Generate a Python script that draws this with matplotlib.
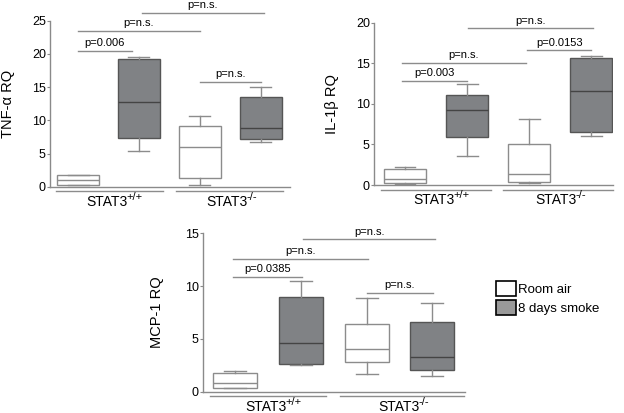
import matplotlib
matplotlib.use("Agg")
import matplotlib.pyplot as plt
from matplotlib.patches import Patch

# Datos: (min, q1, mediana, q3, max) por caja
# orden: STAT3+/+ aire, STAT3+/+ humo, STAT3-/- aire, STAT3-/- humo
tnf_cajas = [(0.2, 0.3, 1.0, 1.7, 1.8),
             (5.4, 7.3, 12.7, 19.2, 19.6),
             (0.25, 1.25, 6.0, 9.1, 10.6),
             (6.8, 7.2, 8.8, 13.55, 15.05)]
il1_cajas = [(0.15, 0.2, 0.8, 2.0, 2.25),
             (3.6, 5.9, 9.3, 11.1, 12.4),
             (0.25, 0.33, 1.3, 5.1, 8.1),
             (6.0, 6.5, 11.6, 15.7, 15.9)]
mcp_cajas = [(0.32, 0.35, 0.85, 1.8, 1.96),
             (2.55, 2.6, 4.58, 9.0, 10.5),
             (1.67, 2.78, 4.0, 6.38, 8.84),
             (1.48, 2.1, 3.25, 6.57, 8.43)]

# comparaciones: (x inicio, x fin, altura, texto)
tnf_p = [(1, 1.88, 20.5, "p=0.006"), (1, 3, 23.5, "p=n.s."),
         (2.05, 4.05, 26.2, "p=n.s."), (3, 4, 15.8, "p=n.s.")]
il1_p = [(0.95, 2, 12.85, "p=0.003"), (0.95, 2.95, 15.0, "p=n.s."),
         (2.02, 4.02, 19.3, "p=n.s."), (2.97, 4, 16.6, "p=0.0153")]
mcp_p = [(0.97, 2.02, 10.9, "p=0.0385"), (0.97, 3.02, 12.6, "p=n.s."),
         (2.03, 4.05, 14.43, "p=n.s."), (3.0, 4.02, 9.35, "p=n.s.")]

grupos = ["STAT3", "STAT3"]
superindices = ["+/+", "-/-"]
leyenda = ["Room air", "8 days smoke"]

W, H = 624, 413
fig = plt.figure(figsize=(W / 100, H / 100), dpi=100)
plt.rcParams['font.family'] = ['Liberation Sans', 'DejaVu Sans']

GRIS_EJE = "#8a8a8a"


def panel(px, ytop, ybot, xlim, ylim, yticks, cajas, pvals, ylabel, ancho,
          lineas_grupo, pad_label):
    # px = (izq, der) en pixeles; ytop/ybot pixeles
    ax = fig.add_axes([px[0] / W, (H - ybot) / H, (px[1] - px[0]) / W, (ybot - ytop) / H])
    stats = []
    for lo, q1, med, q3, hi in cajas:
        stats.append(dict(whislo=lo, q1=q1, med=med, q3=q3, whishi=hi, fliers=[]))
    bp = ax.bxp(stats, positions=[1, 2, 3, 4], widths=ancho, patch_artist=True,
                showcaps=True, capwidths=ancho * 0.5, manage_ticks=False)
    for i, caja in enumerate(bp['boxes']):
        if i % 2 == 0:
            caja.set_facecolor("white")
            caja.set_edgecolor("#8c8c8c")
        else:
            caja.set_facecolor("#808285")
            caja.set_edgecolor("#555555")
        caja.set_linewidth(1.0)
    for i, m in enumerate(bp['medians']):
        m.set_color("#8c8c8c" if i % 2 == 0 else "#444444")
        m.set_linewidth(1.0)
    for w in bp['whiskers'] + bp['caps']:
        w.set_color("#8c8c8c")
        w.set_linewidth(1.0)

    ax.set_xlim(*xlim)
    ax.set_ylim(*ylim)
    ax.set_yticks(yticks)
    ax.set_xticks([])
    for s in ["top", "right"]:
        ax.spines[s].set_visible(False)
    for s in ["left", "bottom"]:
        ax.spines[s].set_color(GRIS_EJE)
        ax.spines[s].set_linewidth(1.0)
    ax.tick_params(axis='y', colors=GRIS_EJE, labelcolor="black", labelsize=9,
                   length=2.2, pad=0.8)
    ax.set_ylabel(ylabel, fontsize=10.5, labelpad=pad_label)

    for x0, x1, y, t in pvals:
        ax.plot([x0, x1], [y, y], color="#8c8c8c", lw=1.0, clip_on=False)
        ax.annotate(t, ((x0 + x1) / 2, y), xytext=(0, 2), textcoords="offset points",
                    ha="center", va="bottom", fontsize=8, annotation_clip=False)

    dy = 4.5 / (ybot - ytop) * (ylim[1] - ylim[0])
    for (x0, x1), g, sup in zip(lineas_grupo, grupos, superindices):
        ax.plot([x0, x1], [-dy, -dy], color="#8c8c8c", lw=1.0, clip_on=False)
        c = (x0 + x1) / 2
        ax.annotate(g, (c, -dy), xytext=(-23, -4), textcoords="offset pixels",
                    ha="left", va="top", fontsize=10, annotation_clip=False)
        ax.annotate(sup, (c, -dy), xytext=(17, -1), textcoords="offset pixels",
                    ha="left", va="top", fontsize=8, annotation_clip=False)
    return ax


panel((50, 290), 20.7, 186.7, (0.54, 4.48), (0, 25), [0, 5, 10, 15, 20, 25],
      tnf_cajas, tnf_p, "TNF-α RQ", 0.69, [(0.64, 2.39), (2.61, 4.36)], 12)
panel((374, 613), 22.7, 185.0, (0.5, 4.35), (0, 20), [0, 5, 10, 15, 20],
      il1_cajas, il1_p, "IL-1β RQ", 0.67, [(0.61, 2.39), (2.58, 4.35)], 12)
panel((203, 465), 233.3, 391.7, (0.51, 4.5), (0, 15), [0, 5, 10, 15],
      mcp_cajas, mcp_p, "MCP-1 RQ", 0.67, [(0.62, 2.39), (2.59, 4.48)], 15)

# leyenda
manejadores = [Patch(facecolor="white", edgecolor="black", lw=1.2),
               Patch(facecolor="#999999", edgecolor="black", lw=1.2)]
fig.legend(manejadores, leyenda, loc="upper left", bbox_to_anchor=(496 / W, 1 - 281 / H),
           frameon=False, fontsize=9.5, handlelength=1.5, handleheight=1.4,
           handletextpad=0.2, labelspacing=0.3, borderpad=0, borderaxespad=0)

fig.savefig("out.png", dpi=100)
